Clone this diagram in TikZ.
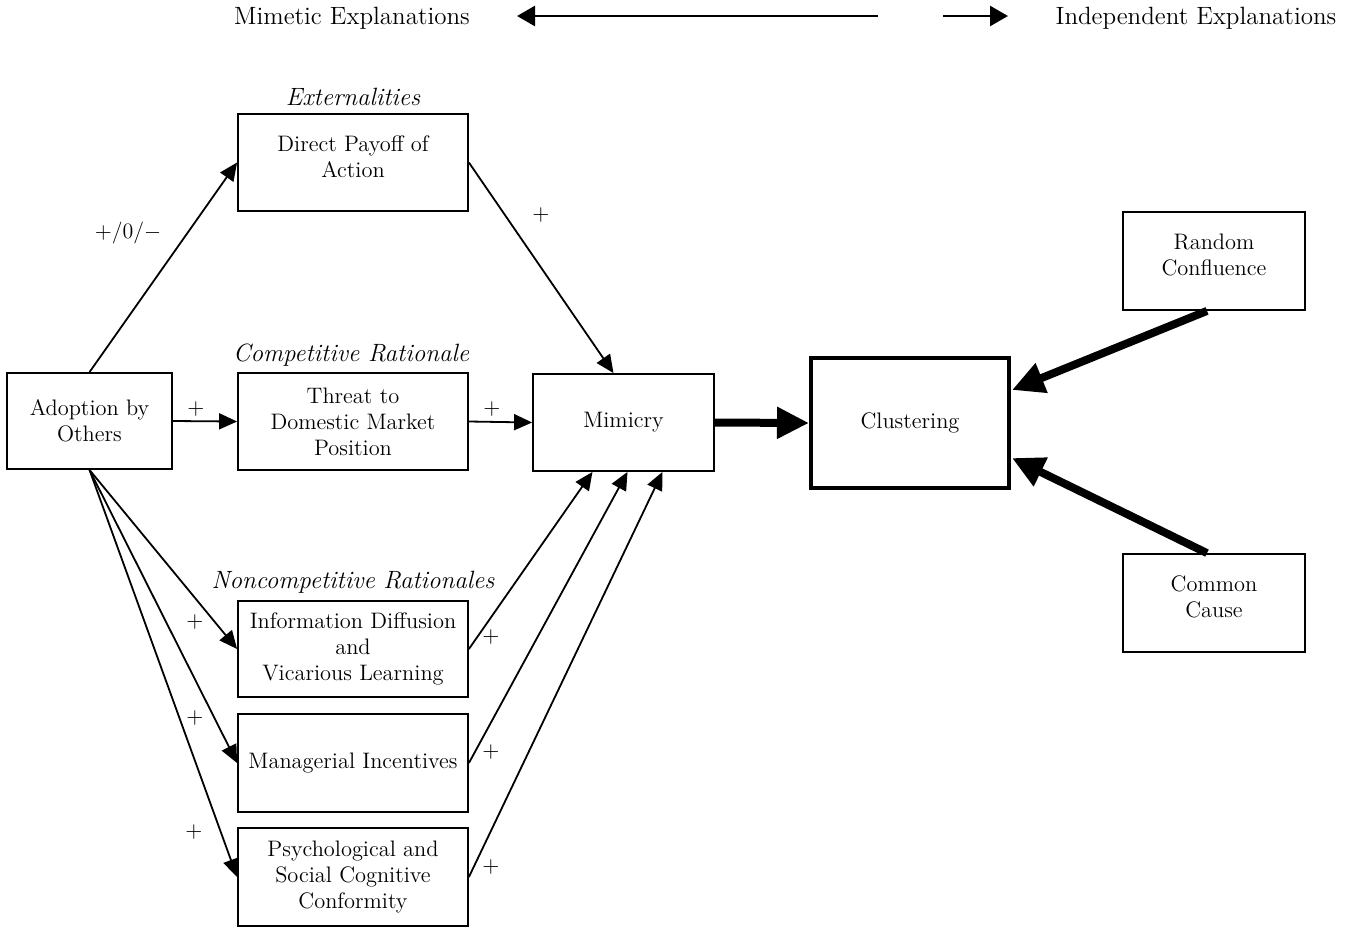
\documentclass[tikz,border=0pt]{standalone}
\usepackage{amsmath,amssymb}
\usepackage{xcolor}
\usepackage{tikz}
\usetikzlibrary{shapes,arrows,positioning,calc,arrows.meta}

\begin{document}
\begin{tikzpicture}[x=0.5pt,y=-0.5pt,
    box/.style={draw, line width=0.9pt, align=center, inner sep=0pt, font=\fontsize{11.2}{13}\selectfont},
    toplbl/.style={font=\fontsize{12.5}{15}\selectfont},
    lbl/.style={font=\fontsize{12.5}{15}\selectfont\itshape},
    sgn/.style={font=\fontsize{11}{13}\selectfont},
    arr/.style={line width=0.9pt, -{Triangle[length=9pt,width=8pt]}},
    toparr/.style={line width=1.3pt, -{Triangle[length=9pt,width=10pt]}},
    bigarr/.style={line width=4pt, -{Triangle[length=16pt,width=15pt]}}]
    \useasboundingbox (0,0) rectangle (1361,928);

    \node[toplbl] (mimetic) at (352,18) {Mimetic Explanations};
    \node[toplbl] (indep) at (1196,18) {Independent Explanations};
    \coordinate (mimtail) at (878,16); \coordinate (mimtip) at (517,16);
    \coordinate (indtail) at (943,16); \coordinate (indtip) at (1008,16);
    \draw[toparr] (mimtail) -- (mimtip);
    \draw[toparr] (indtail) -- (indtip);

    \node[box, minimum width=82.5pt, minimum height=48pt] (adopt) at (89.5,421) {Adoption by\\Others};
    \node[box, minimum width=115pt, minimum height=48.5pt, text depth=6pt] (payoff) at (353,162.5) {Direct Payoff of\\Action};
    \node[box, minimum width=115pt, minimum height=48.5pt] (threat) at (353,421.5) {Threat to\\Domestic Market\\Position};
    \node[box, minimum width=90.5pt, minimum height=48.5pt] (mimicry) at (623.5,422.5) {Mimicry};
    \node[box, line width=2pt, minimum width=99pt, minimum height=65pt] (cluster) at (910,423) {Clustering};
    \node[box, minimum width=91pt, minimum height=49pt, text depth=6pt] (random) at (1214,261) {Random\\Confluence};
    \node[box, minimum width=91pt, minimum height=49pt, text depth=6pt] (common) at (1214,603) {Common\\Cause};
    \node[box, minimum width=115pt, minimum height=48pt] (info) at (353,649) {Information Diffusion\\and\\Vicarious Learning};
    \node[box, minimum width=115pt, minimum height=49pt] (manag) at (353,763) {Managerial Incentives};
    \node[box, minimum width=115pt, minimum height=49pt] (psych) at (353,877) {Psychological and\\Social Cognitive\\Conformity};

    \node[lbl] (extlbl) at (353,97) {Externalities};
    \node[lbl] (complbl) at (351,355) {Competitive Rationale};
    \node[lbl] (noncomplbl) at (353,582) {Noncompetitive Rationales};

    \draw[arr] (adopt.north) -- (payoff.west);
    \draw[arr] (payoff.east) -- ($(mimicry.north)+(-10,0)$);
    \draw[arr] (adopt.east) -- (threat.west);
    \draw[arr] (threat.east) -- (mimicry.west);
    \draw[arr] (adopt.south) -- (info.west);
    \draw[arr] (adopt.south) -- (manag.west);
    \draw[arr] (adopt.south) -- (psych.west);
    \draw[arr] (info.east) -- ($(mimicry.south)+(-31,0)$);
    \draw[arr] (manag.east) -- ($(mimicry.south)+(4,0)$);
    \draw[arr] (psych.east) -- ($(mimicry.south)+(39,0)$);
    \draw[bigarr] (mimicry.east) -- (cluster.west);
    \draw[bigarr] ($(random.south)+(-7,0)$) -- ($(cluster.east)+(1,-33)$);
    \draw[bigarr] ($(common.north)+(-7,0)$) -- ($(cluster.east)+(1,35)$);

    \node[sgn] (s1) at (128,233) {$+$/0/$-$};
    \node[sgn] (s2) at (541,215) {$+$};
    \node[sgn] (s3) at (196,409) {$+$};
    \node[sgn] (s4) at (492,409) {$+$};
    \node[sgn] (s5) at (195,622) {$+$};
    \node[sgn] (s6) at (195,718) {$+$};
    \node[sgn] (s7) at (194,832) {$+$};
    \node[sgn] (s8) at (491,637) {$+$};
    \node[sgn] (s9) at (491,752) {$+$};
    \node[sgn] (s10) at (491,867) {$+$};
\end{tikzpicture}
\end{document}
